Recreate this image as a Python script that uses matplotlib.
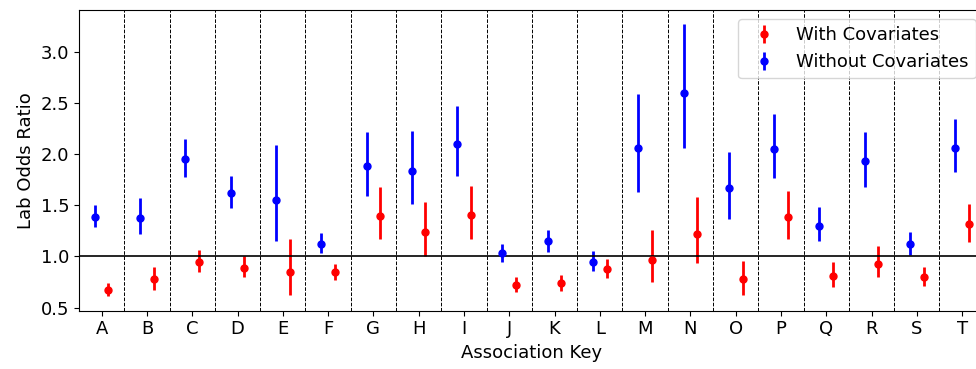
import matplotlib
matplotlib.use('Agg')
import matplotlib.pyplot as plt
import numpy as np

keys = list('ABCDEFGHIJKLMNOPQRST')

# odds ratio with covariates (red) and 95% CI bounds
with_or = [0.67, 0.78, 0.95, 0.89, 0.845, 0.845, 1.40, 1.24, 1.41, 0.725,
           0.74, 0.875, 0.97, 1.215, 0.775, 1.385, 0.81, 0.93, 0.80, 1.32]
with_lo = [0.61, 0.67, 0.845, 0.795, 0.62, 0.77, 1.17, 1.005, 1.17, 0.655,
           0.665, 0.785, 0.755, 0.935, 0.62, 1.17, 0.70, 0.795, 0.71, 1.14]
with_hi = [0.74, 0.90, 1.065, 1.005, 1.17, 0.93, 1.675, 1.53, 1.685, 0.80,
           0.82, 0.975, 1.26, 1.58, 0.955, 1.64, 0.945, 1.10, 0.90, 1.515]

# odds ratio without covariates (blue)
wo_or = [1.39, 1.38, 1.955, 1.62, 1.55, 1.125, 1.88, 1.835, 2.10, 1.03,
         1.15, 0.95, 2.06, 2.595, 1.665, 2.05, 1.30, 1.935, 1.125, 2.065]
wo_lo = [1.285, 1.22, 1.78, 1.47, 1.15, 1.03, 1.595, 1.515, 1.785, 0.95,
         1.045, 0.86, 1.63, 2.065, 1.365, 1.765, 1.15, 1.68, 1.015, 1.825]
wo_hi = [1.50, 1.575, 2.145, 1.785, 2.09, 1.225, 2.215, 2.225, 2.475, 1.125,
         1.255, 1.05, 2.59, 3.27, 2.02, 2.39, 1.48, 2.22, 1.24, 2.345]

x = np.arange(len(keys))
w_or = np.array(with_or)
n_or = np.array(wo_or)
w_err = [w_or - np.array(with_lo), np.array(with_hi) - w_or]
n_err = [n_or - np.array(wo_lo), np.array(wo_hi) - n_or]

fig = plt.figure(figsize=(9.76, 3.69), dpi=100)
ax = fig.add_axes([0.081, 0.158, 0.928, 0.815])

ax.errorbar(x + 0.15, w_or, yerr=w_err, fmt='o', color='red', ms=5,
            elinewidth=2, label='With Covariates')
ax.errorbar(x - 0.15, n_or, yerr=n_err, fmt='o', color='blue', ms=5,
            elinewidth=2, label='Without Covariates')

for b in x[:-1] + 0.5:
    ax.axvline(b, color='black', linestyle='--', linewidth=0.7)
ax.axhline(1.0, color='black', linewidth=1.2)

ax.set_xlim(-0.5, 19.5)
ax.set_ylim(0.47, 3.41)
ax.set_xticks(x)
ax.set_xticklabels(keys, fontsize=13)
ax.set_yticks([0.5, 1.0, 1.5, 2.0, 2.5, 3.0])
ax.tick_params(axis='y', labelsize=13)
ax.set_xlabel('Association Key', fontsize=13)
ax.set_ylabel('Lab Odds Ratio', fontsize=13)
ax.legend(loc='upper right', fontsize=13)

fig.savefig('out.png', dpi=100)
